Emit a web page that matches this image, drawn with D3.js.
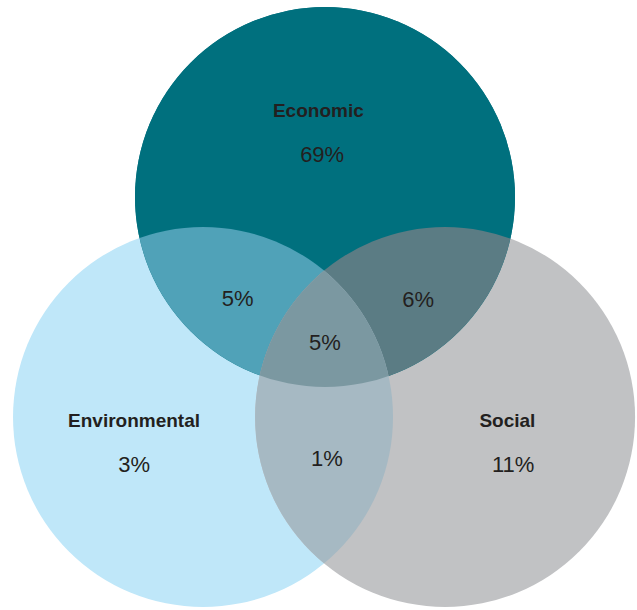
<!DOCTYPE html>
<html>
<head>
<meta charset="utf-8">
<script src="https://cdn.jsdelivr.net/npm/d3@7"></script>
<style>
  html, body { margin: 0; padding: 0; background: #ffffff; }
  svg { display: block; }
  text { font-family: "Liberation Sans", Arial, sans-serif; fill: #231f20; }
</style>
</head>
<body>
<svg id="chart" width="637" height="610"></svg>
<script>
// Three sustainability dimensions and the share that falls in each region
const sets = ["Economic", "Environmental", "Social"];
const setShares = [69, 3, 11];
const pairRegions = [["Economic", "Environmental"], ["Economic", "Social"], ["Environmental", "Social"]];
const pairShares = [5, 6, 1];
const tripleShare = 5;

// Fill colours for single sets, pair overlaps and the centre
const setColors = ["#00707e", "#bfe7f9", "#c1c2c4"];
const pairColors = ["#50a2b8", "#5b7c84", "#a6b9c3"];
const tripleColor = "#7b98a1";

// Layout in circle-radius units (radius = 1)
const centers = { Economic: [0, 0], Environmental: [-0.642, 1.158], Social: [0.632, 1.158] };
const setLabelPos = { Economic: [-0.035, -0.421], Environmental: [-1.005, 1.213], Social: [0.96, 1.213] };
const setValuePos = { Economic: [-0.015, -0.186], Environmental: [-1.005, 1.445], Social: [0.99, 1.445] };
const pairLabelPos = [[-0.46, 0.574], [0.49, 0.579], [0.01, 1.414]];
const tripleLabelPos = [0, 0.805];

const svg = d3.select("#chart");
const R = 190;
const x = d3.scaleLinear().domain([0, 1]).range([325, 325 + R]);
const y = d3.scaleLinear().domain([0, 1]).range([197, 197 + R]);

const defs = svg.append("defs");
sets.forEach((s, i) => {
  defs.append("clipPath").attr("id", "clip-" + i)
    .append("circle")
    .attr("cx", x(centers[s][0]))
    .attr("cy", y(centers[s][1]))
    .attr("r", R);
});

// Single sets
svg.append("g").selectAll("circle")
  .data(sets)
  .join("circle")
  .attr("cx", d => x(centers[d][0]))
  .attr("cy", d => y(centers[d][1]))
  .attr("r", R)
  .attr("fill", (d, i) => setColors[i]);

// Economic drawn on top of the others
svg.append("circle")
  .attr("cx", x(centers.Economic[0]))
  .attr("cy", y(centers.Economic[1]))
  .attr("r", R)
  .attr("fill", setColors[0]);

// Pair overlaps: circle A clipped to circle B
pairRegions.forEach((p, i) => {
  const a = sets.indexOf(p[0]), b = sets.indexOf(p[1]);
  svg.append("circle")
    .attr("clip-path", `url(#clip-${b})`)
    .attr("cx", x(centers[p[0]][0]))
    .attr("cy", y(centers[p[0]][1]))
    .attr("r", R)
    .attr("fill", pairColors[i]);
});

// Centre overlap of all three
svg.append("g").attr("clip-path", "url(#clip-2)")
  .append("circle")
  .attr("clip-path", "url(#clip-1)")
  .attr("cx", x(centers.Economic[0]))
  .attr("cy", y(centers.Economic[1]))
  .attr("r", R)
  .attr("fill", tripleColor);

// Labels
const labels = svg.append("g").attr("text-anchor", "middle");
sets.forEach((s, i) => {
  labels.append("text")
    .attr("x", x(setLabelPos[s][0])).attr("y", y(setLabelPos[s][1]))
    .attr("font-size", 19).attr("font-weight", "bold")
    .text(s);
  labels.append("text")
    .attr("x", x(setValuePos[s][0])).attr("y", y(setValuePos[s][1]))
    .attr("font-size", 22)
    .text(setShares[i] + "%");
});
pairShares.forEach((v, i) => {
  labels.append("text")
    .attr("x", x(pairLabelPos[i][0])).attr("y", y(pairLabelPos[i][1]))
    .attr("font-size", 22)
    .text(v + "%");
});
labels.append("text")
  .attr("x", x(tripleLabelPos[0])).attr("y", y(tripleLabelPos[1]))
  .attr("font-size", 22)
  .text(tripleShare + "%");
</script>
</body>
</html>
